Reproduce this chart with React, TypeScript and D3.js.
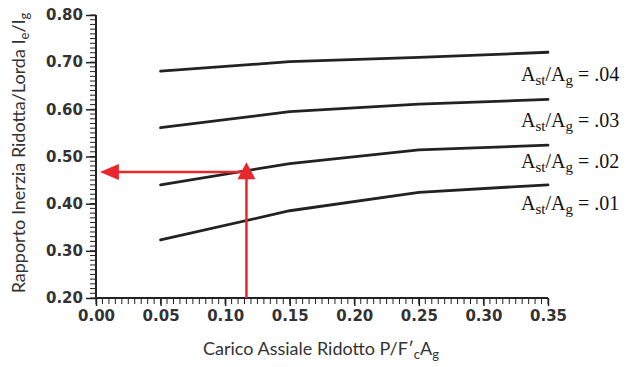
import { useEffect, useRef } from 'react';
import * as d3 from 'd3';

const loads = [0.05, 0.15, 0.25, 0.35];
const ratio01 = [0.323, 0.385, 0.424, 0.44];
const ratio02 = [0.44, 0.485, 0.514, 0.524];
const ratio03 = [0.561, 0.595, 0.611, 0.621];
const ratio04 = [0.681, 0.701, 0.71, 0.721];
const seriesLabels = ['.01', '.02', '.03', '.04'];
const xTicks = [0, 0.05, 0.1, 0.15, 0.2, 0.25, 0.3, 0.35];
const yTicks = [0.2, 0.3, 0.4, 0.5, 0.6, 0.7, 0.8];
const readLoad = 0.1165;
const readRatio = 0.467;

const width = 629;
const height = 367;

export default function App() {
  const svgRef = useRef<SVGSVGElement>(null);

  useEffect(() => {
    if (!svgRef.current) return;
    const svg = d3.select(svgRef.current);
    svg.selectAll('*').remove();

    const x = d3.scaleLinear().domain([0, 0.35]).range([96, 548]);
    const y = d3.scaleLinear().domain([0.2, 0.8]).range([298, 15]);
    const ink = '#222';
    const red = '#e8262b';

    // minor ticks
    const g = svg.append('g');
    g.selectAll('.ymin')
      .data(d3.range(0.2, 0.8001, 0.01))
      .enter()
      .append('line')
      .attr('x1', 96)
      .attr('x2', 90)
      .attr('y1', d => y(d))
      .attr('y2', d => y(d))
      .attr('stroke', ink)
      .attr('stroke-width', 1);
    g.selectAll('.xmin')
      .data(d3.range(0, 0.3501, 0.005))
      .enter()
      .append('line')
      .attr('x1', d => x(d))
      .attr('x2', d => x(d))
      .attr('y1', 298)
      .attr('y2', 304)
      .attr('stroke', ink)
      .attr('stroke-width', 1);

    const yAxis = d3.axisLeft(y).tickValues(yTicks).tickSize(10).tickPadding(3)
      .tickFormat(d => (d as number).toFixed(2));
    const xAxis = d3.axisBottom(x).tickValues(xTicks).tickSize(8).tickPadding(4)
      .tickFormat(d => (d as number).toFixed(2));

    const ya = svg.append('g').attr('transform', 'translate(96,0)').call(yAxis);
    const xa = svg.append('g').attr('transform', 'translate(0,298)').call(xAxis);
    [ya, xa].forEach(a => {
      a.select('.domain').attr('stroke', ink).attr('stroke-width', 2);
      a.selectAll('.tick line').attr('stroke', ink).attr('stroke-width', 1.5);
      a.selectAll('.tick text')
        .attr('fill', '#333')
        .attr('font-family', 'DejaVu Sans')
        .attr('font-weight', 'bold')
        .attr('font-size', '15px');
    });
    ya.select('.domain').attr('d', 'M0,298V15');
    xa.select('.domain').attr('d', 'M96,0H548');

    // curves
    const line = d3.line<number>().x((_, i) => x(loads[i])).y(d => y(d));
    const all = [ratio01, ratio02, ratio03, ratio04];
    svg.selectAll('.curve')
      .data(all)
      .enter()
      .append('path')
      .attr('d', d => line(d))
      .attr('fill', 'none')
      .attr('stroke', ink)
      .attr('stroke-width', 2.8)
      .attr('stroke-linecap', 'round');

    // curve labels
    const labelY = [210, 168, 127, 81];
    all.forEach((_, i) => {
      const t = svg.append('text')
        .attr('x', 521)
        .attr('y', labelY[i])
        .attr('font-family', 'Liberation Serif')
        .attr('font-size', '20px')
        .attr('fill', '#111');
      t.append('tspan').text('A');
      t.append('tspan').attr('font-size', '15px').attr('dy', 4).text('st');
      t.append('tspan').attr('dy', -4).text('/A');
      t.append('tspan').attr('font-size', '15px').attr('dy', 4).text('g');
      t.append('tspan').attr('dy', -4).text(` = ${seriesLabels[i]}`);
    });

    // red reading arrows
    const ax = x(readLoad);
    const ay = y(readRatio);
    svg.append('line')
      .attr('x1', ax).attr('x2', ax)
      .attr('y1', y(0.2)).attr('y2', ay + 6)
      .attr('stroke', red).attr('stroke-width', 2.5);
    svg.append('line')
      .attr('x1', ax).attr('x2', x(0.003) + 16)
      .attr('y1', ay).attr('y2', ay)
      .attr('stroke', red).attr('stroke-width', 2.5);
    svg.append('path')
      .attr('d', `M${ax},${y(0.488)}L${ax + 9},${y(0.488) + 17}L${ax - 9},${y(0.488) + 17}Z`)
      .attr('fill', red);
    const tip = x(0.003);
    svg.append('path')
      .attr('d', `M${tip},${ay}L${tip + 19},${ay - 8}L${tip + 19},${ay + 8}Z`)
      .attr('fill', red);

    // axis titles
    const yt = svg.append('text')
      .attr('transform', 'translate(25,153) rotate(-90)')
      .attr('text-anchor', 'middle')
      .attr('font-family', 'Lato')
      .attr('font-size', '18px')
      .attr('fill', '#333');
    yt.append('tspan').text('Rapporto Inerzia Ridotta/Lorda I');
    yt.append('tspan').attr('font-size', '13px').attr('dy', 4).text('e');
    yt.append('tspan').attr('dy', -4).text('/I');
    yt.append('tspan').attr('font-size', '13px').attr('dy', 4).text('g');

    const xt = svg.append('text')
      .attr('x', 321)
      .attr('y', 355)
      .attr('text-anchor', 'middle')
      .attr('font-family', 'Lato')
      .attr('font-size', '18px')
      .attr('fill', '#333');
    xt.append('tspan').text('Carico Assiale Ridotto P/F′');
    xt.append('tspan').attr('font-size', '13px').attr('dy', 4).text('c');
    xt.append('tspan').attr('dy', -4).text('A');
    xt.append('tspan').attr('font-size', '13px').attr('dy', 4).text('g');
  }, []);

  return (
    <svg
      ref={svgRef}
      width={width}
      height={height}
      style={{ position: 'absolute', left: 0, top: 0, background: '#fff' }}
    />
  );
}
